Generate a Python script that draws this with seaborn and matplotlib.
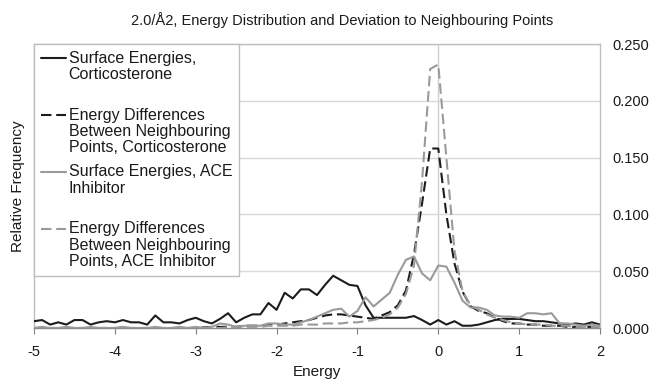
import numpy as np
import pandas as pd
import matplotlib
matplotlib.use("Agg")
import matplotlib.pyplot as plt
import seaborn as sns

# Energy bin centres (-5.0 .. 2.0, step 0.1)
energy = np.round(np.arange(-50, 21) / 10.0, 1)

surf_cort = [
    0.006, 0.007, 0.003, 0.005, 0.003, 0.007, 0.007, 0.003, 0.005, 0.006,
    0.005, 0.007, 0.005, 0.005, 0.003, 0.011, 0.005, 0.005, 0.004, 0.007,
    0.009, 0.006, 0.004, 0.008, 0.013, 0.005, 0.009, 0.012, 0.012, 0.022,
    0.016, 0.031, 0.026, 0.034, 0.034, 0.029, 0.038, 0.046, 0.042, 0.038,
    0.037, 0.020, 0.009, 0.009, 0.009, 0.009, 0.009, 0.0105, 0.007, 0.003,
    0.007, 0.003, 0.006, 0.002, 0.002, 0.003, 0.005, 0.007, 0.008, 0.008,
    0.008, 0.007, 0.006, 0.006, 0.005, 0.004, 0.003, 0.004, 0.003, 0.005,
    0.003,
]
diff_cort = [
    0, 0, 0, 0, 0, 0, 0, 0, 0, 0,
    0, 0, 0, 0, 0, 0, 0, 0, 0, 0,
    0, 0.0005, 0.001, 0.001, 0.001, 0.001, 0.002, 0.002, 0.002, 0.003,
    0.003, 0.004, 0.005, 0.006, 0.007, 0.009, 0.011, 0.012, 0.012, 0.011,
    0.010, 0.009, 0.008, 0.011, 0.014, 0.020, 0.033, 0.065, 0.110, 0.158,
    0.158, 0.100, 0.057, 0.032, 0.019, 0.015, 0.013, 0.009, 0.006, 0.004,
    0.004, 0.003, 0.003, 0.002, 0.002, 0.002, 0.001, 0.001, 0.001, 0.001,
    0.001,
]
surf_ace = [
    0.000, 0.001, 0.000, 0.000, 0.001, 0.000, 0.000, 0.001, 0.000, 0.000,
    0.000, 0.001, 0.000, 0.000, 0.000, 0.001, 0.000, 0.000, 0.001, 0.000,
    0.001, 0.000, 0.001, 0.004, 0.003, 0.001, 0.002, 0.002, 0.002, 0.004,
    0.004, 0.003, 0.003, 0.005, 0.007, 0.010, 0.013, 0.016, 0.017, 0.010,
    0.015, 0.027, 0.019, 0.025, 0.031, 0.047, 0.060, 0.063, 0.048, 0.042,
    0.055, 0.054, 0.040, 0.024, 0.018, 0.018, 0.016, 0.011, 0.010, 0.010,
    0.009, 0.013, 0.013, 0.012, 0.013, 0.004, 0.004, 0.003, 0.002, 0.003,
    0.002,
]
diff_ace = [
    0, 0, 0, 0, 0, 0, 0, 0, 0, 0,
    0, 0, 0, 0, 0, 0, 0, 0, 0, 0,
    0, 0, 0, 0, 0.0005, 0.001, 0.001, 0.001, 0.001, 0.002,
    0.002, 0.002, 0.002, 0.003, 0.003, 0.003, 0.004, 0.004, 0.004, 0.005,
    0.005, 0.006, 0.007, 0.009, 0.012, 0.018, 0.030, 0.055, 0.130, 0.228,
    0.232, 0.150, 0.068, 0.032, 0.020, 0.016, 0.012, 0.009, 0.007, 0.005,
    0.004, 0.003, 0.003, 0.003, 0.002, 0.002, 0.002, 0.001, 0.001, 0.001,
    0.001,
]

labels = [
    "Surface Energies,\nCorticosterone",
    "Energy Differences\nBetween Neighbouring\nPoints, Corticosterone",
    "Surface Energies, ACE\nInhibitor",
    "Energy Differences\nBetween Neighbouring\nPoints, ACE Inhibitor",
]
x_ticks = [-5, -4, -3, -2, -1, 0, 1, 2]
y_ticks = [0.0, 0.05, 0.10, 0.15, 0.20, 0.25]
y_ticklabels = ["0.000", "0.050", "0.100", "0.150", "0.200", "0.250"]

series_values = [surf_cort, diff_cort, surf_ace, diff_ace]
df = pd.concat(
    [pd.DataFrame({"energy": energy, "freq": vals, "series": lab})
     for lab, vals in zip(labels, series_values)],
    ignore_index=True,
)

sns.set_theme(style="white")
plt.rcParams["font.family"] = ["Liberation Sans", "DejaVu Sans"]

BLACK = "#1c1c1c"
GRAY = "#9a9a9a"
TXT = "#1a1a1a"
palette = {labels[0]: BLACK, labels[1]: BLACK, labels[2]: GRAY, labels[3]: GRAY}
dashes = {labels[0]: "", labels[1]: (5, 2.3), labels[2]: "", labels[3]: (5, 2.3)}

fig = plt.figure(figsize=(6.55, 3.79), dpi=100)
ax = fig.add_axes([34 / 655, 1 - 328 / 379, (600 - 34) / 655, (328 - 44) / 379])

ax.axvline(0, color="#d0d0d0", lw=1.0, zorder=0)
for yv in y_ticks[1:]:
    ax.axhline(yv, color="#d9d9d9", lw=1.0, zorder=0)

sns.lineplot(data=df, x="energy", y="freq", hue="series", style="series",
             hue_order=labels, style_order=labels,
             palette=palette, dashes=dashes, linewidth=1.5, ax=ax,
             legend=True, zorder=3)

ax.set_xlim(-5, 2)
ax.set_ylim(0, 0.25)
ax.set_xticks(x_ticks)
ax.set_xticklabels([str(t) for t in x_ticks])
ax.set_yticks(y_ticks)
ax.set_yticklabels(y_ticklabels)
ax.yaxis.tick_right()
ax.tick_params(axis="y", length=0, pad=9, labelsize=10.5, colors=TXT)
ax.tick_params(axis="x", length=4, width=0.8, direction="out", color="#808080",
               pad=8.5, labelsize=10.5, labelcolor=TXT, bottom=True)
ax.set_xlabel("Energy", fontsize=11, color=TXT, labelpad=4)
ax.set_ylabel("")
fig.text(18 / 655, 1 - 186 / 379, "Relative Frequency", rotation=90,
         ha="center", va="center", fontsize=11, color=TXT)
fig.text(342 / 655, 1 - 20 / 379,
         "2.0/Å2, Energy Distribution and Deviation to Neighbouring Points",
         ha="center", va="center", fontsize=10.5, color=TXT)

for side in ["top", "left", "right"]:
    ax.spines[side].set_color("#bdbdbd")
    ax.spines[side].set_linewidth(1.0)
ax.spines["bottom"].set_color("#8c8c8c")
ax.spines["bottom"].set_linewidth(1.0)

handles, labs = ax.get_legend_handles_labels()
ax.get_legend().remove()
padded = [l if l.count("\n") == 2 else l + "\n " for l in labs]
LEG_FS = 11.5
LEG_LS = 1.12
leg = ax.legend(handles, padded, loc="upper left", bbox_to_anchor=(0, 1),
                borderaxespad=0, fontsize=LEG_FS, frameon=True, fancybox=False,
                handlelength=1.6, handletextpad=0.15, labelspacing=0.56,
                borderpad=0.42, framealpha=1)
leg.get_frame().set_edgecolor("#bdbdbd")
leg.get_frame().set_linewidth(1.0)
leg.set_zorder(5)
for t in leg.get_texts():
    t.set_color(TXT)
    t.set_linespacing(LEG_LS)
for ln in leg.get_lines():
    ln.set_ydata(np.asarray(ln.get_ydata(), dtype=float) + 12.2)

fig.savefig("out.png", dpi=100, facecolor="white")
